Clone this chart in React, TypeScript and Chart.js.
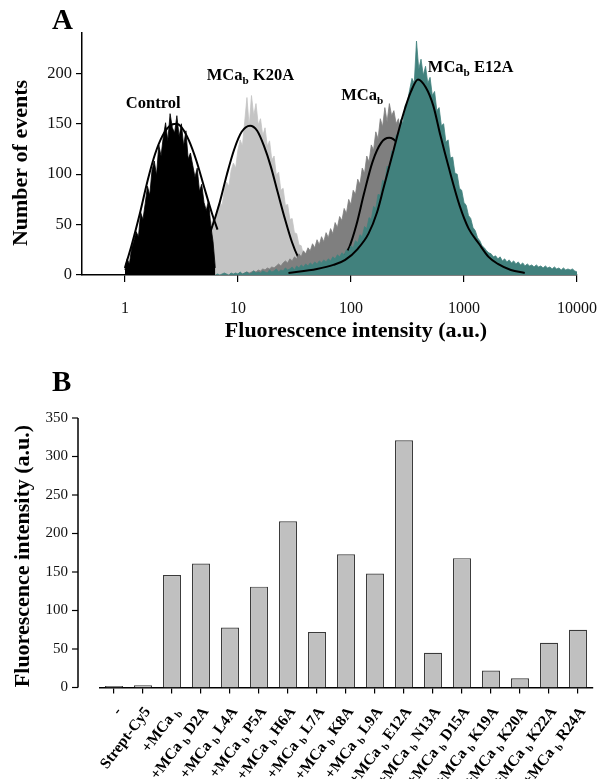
import React, { useEffect, useRef } from 'react';
import { Chart, registerables } from 'chart.js';

Chart.register(...registerables);

const FONT = '"Liberation Serif", "Times New Roman", Times, serif';

// ---------------- Panel A : flow-cytometry histograms ----------------
// channels on a log axis, 0.02 decade per channel
const BIN_STEP = 0.02;

const controlStartLog = 0.0;
const controlCounts = [5, 16, 11, 27, 34, 43, 38, 62, 55, 71, 88, 79, 104, 113, 99, 129, 118, 137, 151, 133, 160, 146, 141, 158, 137, 150, 128, 143, 115, 121, 109, 97, 106, 83, 90, 72, 64, 74, 49, 33, 7];

const k20aStartLog = 0.3;
const k20aCounts = [1, 2, 1, 3, 2, 4, 3, 5, 4, 7, 6, 9, 12, 10, 16, 19, 17, 25, 29, 26, 36, 41, 38, 50, 56, 52, 66, 72, 69, 84, 92, 88, 104, 111, 106, 124, 134, 128, 152, 176, 147, 178, 158, 170, 149, 155, 138, 146, 128, 133, 114, 118, 99, 102, 84, 86, 69, 70, 55, 56, 42, 41, 30, 29, 20, 18, 12, 11, 7, 6, 4, 3, 2, 1];

const mcabStartLog = 1.0;
const mcabCounts = [1, 2, 1, 2, 3, 2, 3, 4, 3, 5, 4, 6, 5, 7, 6, 8, 7, 9, 11, 9, 12, 14, 12, 16, 14, 18, 16, 21, 18, 24, 21, 27, 24, 31, 27, 35, 30, 38, 33, 42, 37, 46, 41, 52, 47, 58, 54, 66, 61, 75, 70, 84, 80, 95, 90, 106, 101, 118, 112, 129, 124, 142, 135, 155, 147, 166, 152, 170, 158, 163, 150, 155, 140, 143, 126, 128, 110, 108, 92, 88, 72, 66, 50, 42, 30, 18];

const e12aStartLog = 0.8;
const e12aCounts = [
  0, 1, 0, 1, 2, 1, 0, 2, 1, 2,
  1, 3, 1, 2, 3, 1, 2, 4, 2, 3,
  2, 4, 3, 2, 5, 3, 4, 6, 3, 5,
  4, 7, 5, 6, 8, 5, 9, 7, 10, 8,
  11, 9, 12, 10, 13, 11, 14, 12, 15, 13,
  16, 14, 18, 16, 20, 18, 22, 20, 25, 23,
  29, 27, 34, 32, 40, 38, 48, 46, 57, 55,
  68, 66, 80, 79, 94, 92, 108, 106, 123, 121,
  139, 137, 154, 151, 168, 172, 184, 195, 190, 232,
  204, 214, 198, 207, 190, 196, 178, 182, 163, 166,
  148, 150, 132, 134, 116, 117, 101, 100, 86, 84,
  72, 69, 59, 56, 47, 44, 37, 34, 29, 27,
  24, 22, 21, 18, 19, 16, 18, 14, 16, 13,
  15, 12, 14, 11, 13, 10, 12, 9, 11, 9,
  10, 8, 10, 8, 9, 7, 9, 7, 8, 6,
  8, 6, 7, 5, 7, 5, 6, 5, 6, 4,
  3,
];

// fitted curves
const controlFit = [
  { x: 1, y: 7 }, { x: 1.15, y: 30 }, { x: 1.35, y: 60 }, { x: 1.6, y: 95 }, { x: 1.85, y: 120 },
  { x: 2.15, y: 138 }, { x: 2.5, y: 148 }, { x: 2.85, y: 150 }, { x: 3.2, y: 146 }, { x: 3.7, y: 133 },
  { x: 4.3, y: 113 }, { x: 5.0, y: 88 }, { x: 5.9, y: 61 }, { x: 6.6, y: 45 },
];
const k20aFit = [
  { x: 2.7, y: 1 }, { x: 3.4, y: 4 }, { x: 4.2, y: 13 }, { x: 5.0, y: 27 }, { x: 5.8, y: 45 },
  { x: 6.9, y: 72 }, { x: 8.0, y: 100 }, { x: 9.3, y: 125 }, { x: 10.8, y: 142 }, { x: 12.8, y: 148 },
  { x: 14.8, y: 143 }, { x: 17.0, y: 128 }, { x: 19.5, y: 108 }, { x: 22.5, y: 82 }, { x: 26, y: 56 },
  { x: 30, y: 33 }, { x: 34, y: 18 }, { x: 38, y: 9 }, { x: 43, y: 3 },
];
const mcabFit = [
  { x: 75, y: 10 }, { x: 83, y: 15 }, { x: 97, y: 28 }, { x: 112, y: 50 }, { x: 130, y: 80 },
  { x: 155, y: 112 }, { x: 185, y: 131 }, { x: 218, y: 136 }, { x: 255, y: 131 }, { x: 290, y: 118 },
  { x: 340, y: 95 }, { x: 400, y: 70 }, { x: 480, y: 45 }, { x: 570, y: 25 }, { x: 680, y: 12 },
];
const e12aFit = [
  { x: 28, y: 2 }, { x: 50, y: 6 }, { x: 70, y: 10 }, { x: 89, y: 15 }, { x: 115, y: 26 },
  { x: 143, y: 41 }, { x: 170, y: 62 }, { x: 195, y: 87 }, { x: 240, y: 125 }, { x: 286, y: 157 },
  { x: 340, y: 182 }, { x: 392, y: 194 }, { x: 460, y: 186 }, { x: 535, y: 168 }, { x: 620, y: 138 },
  { x: 728, y: 108 }, { x: 920, y: 68 }, { x: 1100, y: 46 }, { x: 1358, y: 31 }, { x: 1650, y: 18 },
  { x: 1995, y: 11 }, { x: 2600, y: 5 }, { x: 3450, y: 2 },
];

const xTicksA = [1, 10, 100, 1000, 10000];
const yTicksA = [0, 50, 100, 150, 200];
const seriesNamesA = ['Control', 'MCa_b K20A', 'MCa_b', 'MCa_b E12A'];

// ---------------- Panel B : bar chart ----------------
const categoriesB = ['-', 'Strept-Cy5', '+MCa_b', '+MCa_b D2A', '+MCa_b L4A', '+MCa_b P5A', '+MCa_b H6A', '+MCa_b L7A', '+MCa_b K8A', '+MCa_b L9A', '+MCa_b E12A', '+MCa_b N13A', '+MCa_b D15A', '+MCa_b K19A', '+MCa_b K20A', '+MCa_b K22A', '+MCa_b R24A'];
const valuesB = [2, 3, 146, 161, 78, 131, 216, 72, 173, 148, 321, 45, 168, 22, 12, 58, 75];
const yTicksB = [0, 50, 100, 150, 200, 250, 300, 350];

// ---------------- helpers ----------------
type Part = { t: string; sub?: boolean };

function parseLabel(s: string, spaced: boolean): Part[] {
  const idx = s.indexOf('_');
  if (idx < 0) return [{ t: s }];
  const main = s.slice(0, idx);
  const sub = s.charAt(idx + 1);
  const rest = s.slice(idx + 2);
  return [{ t: main + (spaced ? ' ' : '') }, { t: sub, sub: true }, { t: rest }];
}

function drawRich(ctx: CanvasRenderingContext2D, parts: Part[], x: number, y: number, size: number, align: 'left' | 'right') {
  const subSize = size * 0.68;
  ctx.textAlign = 'left';
  ctx.textBaseline = 'alphabetic';
  const widths = parts.map((p) => {
    ctx.font = `bold ${p.sub ? subSize : size}px ${FONT}`;
    return ctx.measureText(p.t).width;
  });
  const total = widths.reduce((a, b) => a + b, 0);
  let cx = align === 'left' ? x : x - total;
  parts.forEach((p, i) => {
    ctx.font = `bold ${p.sub ? subSize : size}px ${FONT}`;
    ctx.fillText(p.t, cx, p.sub ? y + size * 0.24 : y);
    cx += widths[i];
  });
}

function toPoints(start: number, counts: number[]) {
  return counts.map((c, i) => ({ x: Math.pow(10, start + i * BIN_STEP), y: c }));
}

function hist(counts: number[], start: number, color: string) {
  return {
    data: toPoints(start, counts),
    borderColor: color,
    backgroundColor: color,
    borderWidth: 0.8,
    pointRadius: 0,
    fill: 'origin',
    tension: 0,
  };
}

function curve(points: { x: number; y: number }[]) {
  return {
    data: points,
    borderColor: '#000',
    borderWidth: 2,
    pointRadius: 0,
    fill: false,
    cubicInterpolationMode: 'monotone',
  };
}

const panelAPlugin = {
  id: 'panelA',
  afterDraw(chart: any) {
    const { ctx, scales } = chart;
    const xs = scales.x;
    const ys = scales.y;
    ctx.save();
    ctx.fillStyle = '#000';
    ctx.font = `bold 29px ${FONT}`;
    ctx.textAlign = 'left';
    ctx.textBaseline = 'alphabetic';
    ctx.fillText('A', 52, 29);

    ctx.font = `bold 22px ${FONT}`;
    ctx.textAlign = 'center';
    ctx.textBaseline = 'middle';
    ctx.fillText('Fluorescence intensity (a.u.)', 356, 331);

    ctx.save();
    ctx.translate(21, 163);
    ctx.rotate(-Math.PI / 2);
    ctx.fillText('Number of events', 0, 0);
    ctx.restore();

    const anchors = [
      { x: 1.02, y: 166 },
      { x: 5.3, y: 193 },
      { x: 82, y: 174 },
      { x: 479, y: 201 },
    ];
    seriesNamesA.forEach((name, i) => {
      const px = xs.getPixelForValue(anchors[i].x);
      const py = ys.getPixelForValue(anchors[i].y);
      drawRich(ctx, parseLabel(name, false), px, py, 16.5, 'left');
    });
    ctx.restore();
  },
};

const panelBPlugin = {
  id: 'panelB',
  afterDraw(chart: any) {
    const { ctx, chartArea, scales } = chart;
    const xs = scales.x;
    const ys = scales.y;
    ctx.save();
    ctx.fillStyle = '#000';
    ctx.font = `bold 29px ${FONT}`;
    ctx.textAlign = 'left';
    ctx.textBaseline = 'alphabetic';
    ctx.fillText('B', 52, 46);

    // y axis (offset from the bars)
    const yTop = ys.getPixelForValue(yTicksB[yTicksB.length - 1]);
    const yBot = ys.getPixelForValue(0);
    ctx.strokeStyle = '#000';
    ctx.lineWidth = 1.5;
    ctx.beginPath();
    ctx.moveTo(78, yTop);
    ctx.lineTo(78, yBot);
    ctx.stroke();
    ctx.lineWidth = 1.2;
    ctx.font = `15px ${FONT}`;
    ctx.textAlign = 'right';
    ctx.textBaseline = 'middle';
    ctx.fillStyle = '#111';
    ys.ticks.forEach((t: any) => {
      const py = ys.getPixelForValue(t.value);
      ctx.beginPath();
      ctx.moveTo(72, py);
      ctx.lineTo(78, py);
      ctx.stroke();
      ctx.fillText(String(t.value), 68, py);
    });

    ctx.fillStyle = '#000';
    ctx.font = `bold 22px ${FONT}`;
    ctx.textAlign = 'center';
    ctx.save();
    ctx.translate(23, 211);
    ctx.rotate(-Math.PI / 2);
    ctx.fillText('Fluorescence intensity (a.u.)', 0, 0);
    ctx.restore();

    categoriesB.forEach((lab, i) => {
      const px = xs.getPixelForValue(i);
      ctx.save();
      ctx.translate(px + 4, chartArea.bottom + 21);
      ctx.rotate((-53 * Math.PI) / 180);
      drawRich(ctx, parseLabel(lab, true), 0, 5, 15.5, 'right');
      ctx.restore();
    });
    ctx.restore();
  },
};

export default function App() {
  const refA = useRef<HTMLCanvasElement>(null);
  const refB = useRef<HTMLCanvasElement>(null);

  useEffect(() => {
    const chartA = new Chart(refA.current as HTMLCanvasElement, {
      type: 'line',
      data: {
        datasets: [
          curve(e12aFit),
          hist(e12aCounts, e12aStartLog, '#41817d'),
          curve(mcabFit),
          hist(mcabCounts, mcabStartLog, '#7f7f7f'),
          curve(controlFit),
          curve(k20aFit),
          hist(controlCounts, controlStartLog, '#000000'),
          hist(k20aCounts, k20aStartLog, '#c4c4c4'),
        ] as any,
      },
      options: {
        animation: false,
        responsive: false,
        events: [],
        layout: { padding: { top: 33, right: 24, left: 0, bottom: 0 } },
        plugins: { legend: { display: false }, tooltip: { enabled: false } },
        scales: {
          x: {
            type: 'logarithmic',
            min: 0.4175,
            max: 10000,
            afterBuildTicks: (s: any) => {
              s.ticks = xTicksA.map((v) => ({ value: v }));
            },
            afterFit: (s: any) => {
              s.height = 70;
            },
            grid: { drawOnChartArea: false, drawTicks: true, tickLength: 7, color: '#000', lineWidth: 1.2 },
            border: { display: true, color: '#000', width: 1.5 },
            ticks: {
              color: '#111',
              font: { family: FONT, size: 16 },
              padding: 17,
              maxRotation: 0,
              autoSkip: false,
              callback: (v: any) => String(v),
            },
          },
          y: {
            type: 'linear',
            min: 0,
            max: 240,
            afterBuildTicks: (s: any) => {
              s.ticks = yTicksA.map((v) => ({ value: v }));
            },
            afterFit: (s: any) => {
              s.width = 82;
            },
            grid: { drawOnChartArea: false, drawTicks: true, tickLength: 6, color: '#000', lineWidth: 1.2 },
            border: { display: true, color: '#000', width: 1.5 },
            ticks: { color: '#111', font: { family: FONT, size: 16.5 }, padding: 4 },
          },
        },
      } as any,
      plugins: [panelAPlugin],
    });

    const chartB = new Chart(refB.current as HTMLCanvasElement, {
      type: 'bar',
      data: {
        labels: categoriesB,
        datasets: [
          {
            data: valuesB,
            backgroundColor: '#c0c0c0',
            borderColor: '#3a3a3a',
            borderWidth: 1.2,
            categoryPercentage: 1,
            barPercentage: 0.62,
          },
        ],
      },
      options: {
        animation: false,
        responsive: false,
        events: [],
        layout: { padding: { top: 73, right: 21.5, left: 0, bottom: 0 } },
        plugins: { legend: { display: false }, tooltip: { enabled: false } },
        scales: {
          x: {
            afterFit: (s: any) => {
              s.height = 91.5;
            },
            grid: { offset: false, drawOnChartArea: false, drawTicks: true, tickLength: 6, color: '#000', lineWidth: 1.2 },
            border: { display: true, color: '#000', width: 1.5 },
            ticks: { display: false, autoSkip: false },
          },
          y: {
            min: 0,
            max: 350,
            afterBuildTicks: (s: any) => {
              s.ticks = yTicksB.map((v) => ({ value: v }));
            },
            afterFit: (s: any) => {
              s.width = 99.5;
            },
            grid: { display: false },
            border: { display: false },
            ticks: { display: false },
          },
        },
      } as any,
      plugins: [panelBPlugin],
    });

    return () => {
      chartA.destroy();
      chartB.destroy();
    };
  }, []);

  return (
    <div style={{ position: 'absolute', left: 0, top: 0, width: 614, height: 779, background: '#fff', overflow: 'hidden' }}>
      <canvas ref={refA} width={614} height={345} style={{ position: 'absolute', left: 0, top: 0, width: 614, height: 345 }} />
      <canvas ref={refB} width={614} height={434} style={{ position: 'absolute', left: 0, top: 345, width: 614, height: 434 }} />
    </div>
  );
}
